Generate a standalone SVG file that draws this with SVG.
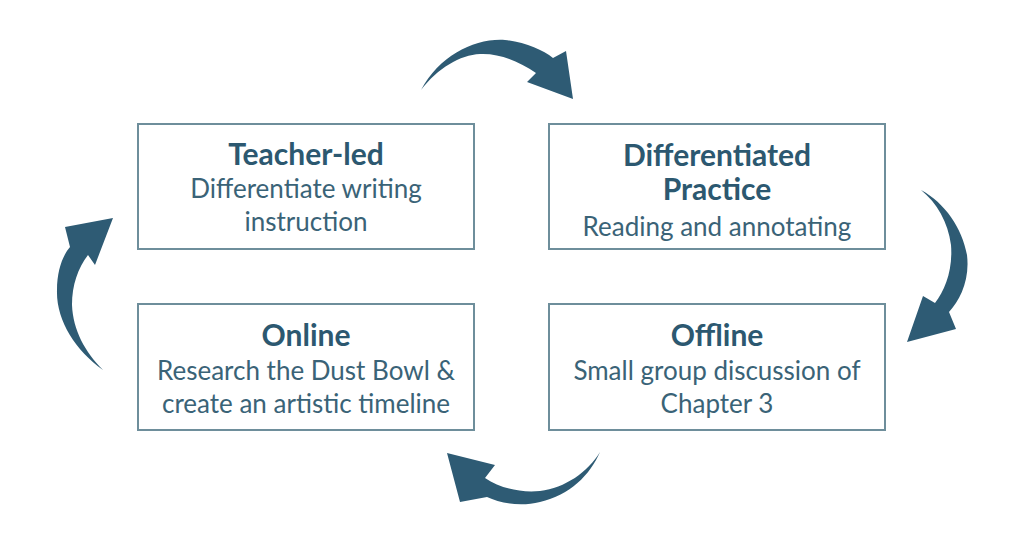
<svg xmlns="http://www.w3.org/2000/svg" width="1024" height="544" viewBox="0 0 1024 544">
<style>
.box{fill:#ffffff;stroke:#6e8e9b;stroke-width:2}
.t{font-family:Lato,"Open Sans",sans-serif;font-weight:700;font-size:30px;fill:#2c5870;text-anchor:middle}
.b{font-family:Lato,"Open Sans",sans-serif;font-size:26px;fill:#3a6377;text-anchor:middle}
.arr{fill:#2e5b74}
</style>
<rect width="1024" height="544" fill="#ffffff"/>
<g id="connectors">
<path class="arr" d="M421,90 C440,55 475,38 505,40 C525,42 543,50 553,58 L566,51 L573,99 L527,82 L536,73 C520,62 500,53 480,54 C460,55 438,68 421,90 Z"/>
<path class="arr" d="M921,190 C945,203 962,228 967,255 C970,280 960,300 949,312 L956,329 L907,342 L923,296 L935,303 C945,290 953,270 951,245 C948,222 937,203 921,190 Z"/>
<path class="arr" d="M600,452 C590,475 570,495 540,502 C520,507 500,503 487,497 L460,502 L447,453 L495,465 L485,478 C500,488 520,493 540,491 C565,488 588,472 600,452 Z"/>
<path class="arr" d="M103,370 C75,350 56,320 57,290 C57,270 63,255 70,247 L65,227 L113,218 L95,265 L88,255 C78,268 72,285 72,305 C73,330 85,352 103,370 Z"/>
</g>
<g id="teacher-led">
<rect class="box" x="138" y="124" width="336" height="125"/>
<text class="t" x="306" y="165">Teacher-led</text>
<text class="b" x="306" y="198">Differentiate writing</text>
<text class="b" x="306" y="231">instruction</text>
</g>
<g id="differentiated-practice">
<rect class="box" x="549" y="124" width="336" height="125"/>
<text class="t" x="717" y="166">Differentiated</text>
<text class="t" x="717" y="200">Practice</text>
<text class="b" x="717" y="236">Reading and annotating</text>
</g>
<g id="online">
<rect class="box" x="138" y="304" width="336" height="126"/>
<text class="t" x="306" y="346">Online</text>
<text class="b" x="306" y="380">Research the Dust Bowl &amp;</text>
<text class="b" x="306" y="413">create an artistic timeline</text>
</g>
<g id="offline">
<rect class="box" x="549" y="304" width="336" height="126"/>
<text class="t" x="717" y="346">Offline</text>
<text class="b" x="717" y="380">Small group discussion of</text>
<text class="b" x="717" y="413">Chapter 3</text>
</g>
</svg>
